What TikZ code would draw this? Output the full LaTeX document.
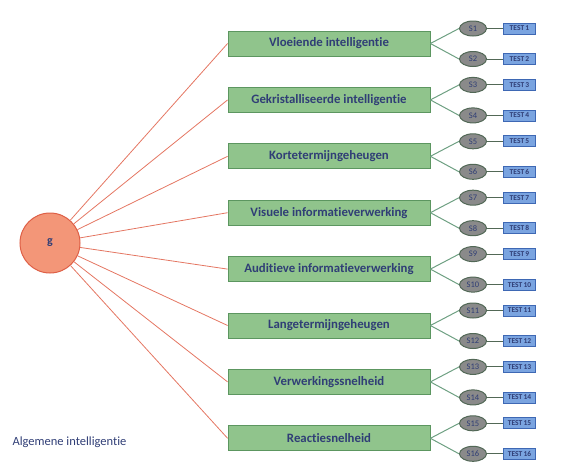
\documentclass[tikz,border=0pt]{standalone}
\usepackage{fontspec}
\setmainfont{Carlito}[Ligatures=NoCommon]
\usetikzlibrary{shapes.geometric}
\definecolor{txtblue}{RGB}{48,62,118}
\definecolor{gfill}{RGB}{144,196,140}
\definecolor{gdraw}{RGB}{92,150,96}
\definecolor{cfill}{RGB}{243,150,120}
\definecolor{cdraw}{RGB}{222,95,70}
\definecolor{redline}{RGB}{228,118,98}
\definecolor{sfill}{RGB}{138,138,138}
\definecolor{sdraw}{RGB}{82,104,86}
\definecolor{tfill}{RGB}{122,164,224}
\definecolor{tdraw}{RGB}{62,104,180}
\definecolor{gline}{RGB}{110,160,130}
\tikzset{
  gnode/.style={circle,draw=cdraw,fill=cfill,line width=1pt,minimum size=60pt,inner sep=0pt,text=txtblue,font=\bfseries\fontsize{12}{14}\selectfont},
  factor/.style={rectangle,draw=gdraw,fill=gfill,line width=0.8pt,minimum width=202pt,minimum height=25pt,inner sep=0pt,text=txtblue,font=\bfseries\fontsize{12.8}{14}\selectfont},
  sub/.style={ellipse,draw=sdraw,fill=sfill,line width=1pt,minimum width=27pt,minimum height=15pt,inner sep=0pt,text=txtblue,font=\fontsize{8.5}{9}\selectfont},
  test/.style={rectangle,draw=tdraw,fill=tfill,line width=0.7pt,minimum width=32pt,minimum height=11pt,inner sep=0pt,text=txtblue,font=\bfseries\fontsize{7.5}{8}\selectfont},
  redcon/.style={draw=redline,line width=0.8pt},
  greencon/.style={draw=gline,line width=1pt},
  darkcon/.style={draw=sdraw,line width=0.9pt},
}
\begin{document}
\begin{tikzpicture}[x=1pt,y=-1pt]
\useasboundingbox (0,0) rectangle (574,472);
\node[gnode] (g) at (50,243) {g};
\node[anchor=west,text=txtblue,font=\fontsize{12.5}{14}\selectfont] (alg) at (9,442) {Algemene intelligentie};
\foreach \i/\lab in {0/Vloeiende intelligentie,1/Gekristalliseerde intelligentie,2/Kortetermijngeheugen,3/Visuele informatieverwerking,4/Auditieve informatieverwerking,5/Langetermijngeheugen,6/Verwerkingssnelheid,7/Reactiesnelheid}{
  \pgfmathsetmacro{\yc}{43.5+56.4*\i}
  \pgfmathtruncatemacro{\sa}{2*\i+1}
  \pgfmathtruncatemacro{\sb}{2*\i+2}
  \node[factor] (f\i) at (329,\yc) {\lab};
  \node[sub] (s\sa) at (473,\yc-15) {S\sa};
  \node[sub] (s\sb) at (473,\yc+15.5) {S\sb};
  \node[test] (t\sa) at (519.5,\yc-15) {TEST\,\sa};
  \node[test] (t\sb) at (519.5,\yc+15.5) {TEST\,\sb};
  \draw[redcon] (g) -- (f\i.west);
  \draw[greencon] (f\i.east) -- (s\sa.west);
  \draw[greencon] (f\i.east) -- (s\sb.west);
  \draw[darkcon] (s\sa.east) -- (t\sa.west);
  \draw[darkcon] (s\sb.east) -- (t\sb.west);
}
\end{tikzpicture}
\end{document}
